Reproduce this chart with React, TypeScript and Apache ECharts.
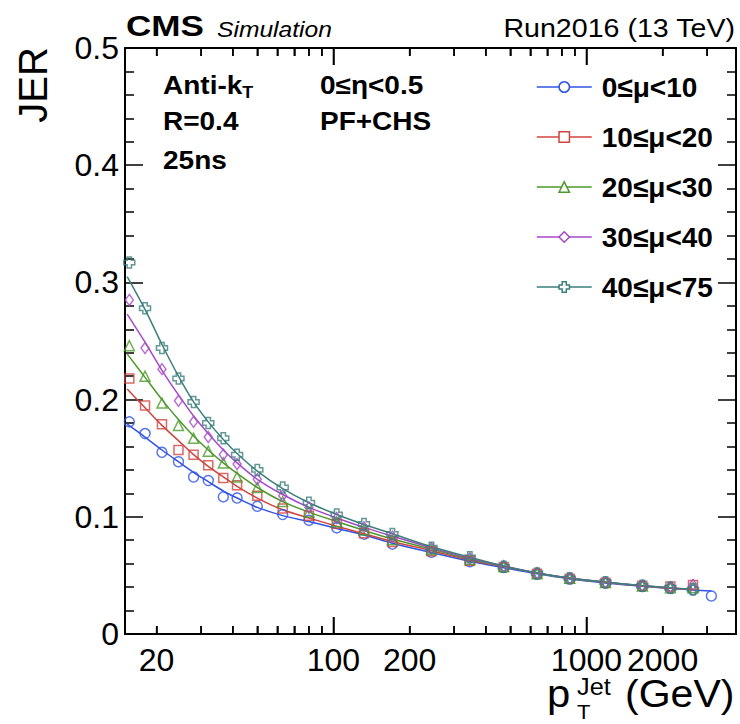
import React, { useEffect, useRef } from 'react';
import * as echarts from 'echarts';

// pT bin centres (GeV)
const ptBins = [15.6, 18, 21, 24.4, 28, 32, 36.7, 41.6, 50, 63, 80, 103, 132, 171, 244, 346, 471, 638, 859, 1189, 1663, 2147, 2637, 3117];
// fit curve sample positions (GeV)
const fitPt = [15.3, 18, 21, 24.4, 28, 32, 36.7, 41.6, 50, 63, 80, 103, 132, 171, 244, 346, 471, 638, 859, 1189, 1663, 2147, 2637, 3117];

const seriesNames = ['0≤μ<10', '10≤μ<20', '20≤μ<30', '30≤μ<40', '40≤μ<75'];

// measured JER points
const jerMu0 = [0.181, 0.171, 0.155, 0.147, 0.134, 0.131, 0.117, 0.116, 0.109, 0.102, 0.097, 0.0906, 0.0852, 0.0767, 0.0697, 0.0616, 0.0567, 0.0512, 0.0469, 0.0435, 0.0405, 0.0388, 0.0375, 0.0324];
const jerMu10 = [0.218, 0.195, 0.179, 0.157, 0.153, 0.144, 0.133, 0.127, 0.118, 0.107, 0.101, 0.094, 0.086, 0.0785, 0.0705, 0.0625, 0.0572, 0.0515, 0.0472, 0.0438, 0.0412, 0.0405, 0.0418];
const jerMu20 = [0.246, 0.220, 0.197, 0.178, 0.167, 0.156, 0.146, 0.134, 0.125, 0.113, 0.104, 0.0957, 0.0887, 0.0805, 0.072, 0.0635, 0.0575, 0.0515, 0.0475, 0.044, 0.041, 0.0395, 0.0395];
const jerMu30 = [0.285, 0.244, 0.226, 0.199, 0.181, 0.168, 0.153, 0.145, 0.132, 0.118, 0.108, 0.099, 0.091, 0.083, 0.073, 0.0645, 0.058, 0.052, 0.0475, 0.044, 0.0412, 0.0398, 0.042];
const jerMu40 = [0.317, 0.278, 0.244, 0.218, 0.198, 0.180, 0.167, 0.153, 0.140, 0.125, 0.112, 0.102, 0.0938, 0.0853, 0.0736, 0.0654, 0.0574, 0.0517, 0.0475, 0.0441, 0.0412, 0.0395, 0.0381];

// fitted curves
const fitMu0 = [0.179, 0.168, 0.157, 0.147, 0.138, 0.130, 0.122, 0.116, 0.108, 0.101, 0.096, 0.090, 0.0845, 0.0775, 0.0695, 0.062, 0.0565, 0.0513, 0.047, 0.0436, 0.0407, 0.039, 0.0376, 0.0366];
const fitMu10 = [0.209, 0.193, 0.178, 0.165, 0.153, 0.143, 0.134, 0.126, 0.116, 0.106, 0.099, 0.092, 0.0855, 0.079, 0.071, 0.063, 0.0575, 0.052, 0.0475, 0.044, 0.041, 0.039, 0.0377];
const fitMu20 = [0.239, 0.219, 0.200, 0.183, 0.169, 0.157, 0.146, 0.137, 0.125, 0.113, 0.104, 0.096, 0.0885, 0.081, 0.0725, 0.0638, 0.0577, 0.0518, 0.0474, 0.0441, 0.0411, 0.0392, 0.0378];
const fitMu30 = [0.273, 0.249, 0.225, 0.204, 0.186, 0.171, 0.157, 0.146, 0.132, 0.119, 0.108, 0.099, 0.091, 0.0835, 0.0735, 0.0645, 0.058, 0.052, 0.0476, 0.0442, 0.0412, 0.0393, 0.0379];
const fitMu40 = [0.305, 0.277, 0.247, 0.220, 0.198, 0.181, 0.166, 0.154, 0.139, 0.124, 0.112, 0.102, 0.0935, 0.0855, 0.0745, 0.0655, 0.058, 0.052, 0.0477, 0.0443, 0.0413, 0.0394, 0.038];

// axis ranges and ticks
const xRange = [15, 3900];
const yRange = [0, 0.5];
const xMinorTicks = [20, 30, 40, 50, 60, 70, 80, 90, 200, 300, 400, 500, 600, 700, 800, 900, 2000, 3000];
const xMajorTicks = [100, 1000];
const xTickLabels = [20, 100, 200, 1000, 2000];

const pointSets = [jerMu0, jerMu10, jerMu20, jerMu30, jerMu40];
const fitSets = [fitMu0, fitMu10, fitMu20, fitMu30, fitMu40];
const colors = ['#2f54e6', '#d0453f', '#4c9a2a', '#a548c9', '#3b7f7b'];
const crossPath = 'path://M3,0 L7,0 L7,3 L10,3 L10,7 L7,7 L7,10 L3,10 L3,7 L0,7 L0,3 L3,3 Z';
const symbols = ['circle', 'rect', 'triangle', 'diamond', crossPath];
const symbolSizes: any[] = [10, 9, 10, [8, 11], 11];

const FONT = '"Liberation Sans", Arial, Helvetica, sans-serif';
const PLOT_H = 724 - 48 - 90;

export default function App() {
  const ref = useRef<HTMLDivElement>(null);
  useEffect(() => {
    if (!ref.current) return;
    const chart = echarts.init(ref.current, null, { renderer: 'svg' });

    const tickStyle = { color: '#000', width: 1.5 };
    const frameLine = { show: true, onZero: false, lineStyle: { color: '#000', width: 2 } };

    const logAxis = (position: string, labels: boolean) => ({
      type: 'log',
      logBase: 10,
      min: xRange[0],
      max: xRange[1],
      position,
      splitLine: { show: false },
      axisLine: frameLine,
      axisTick: { show: false },
      axisLabel: labels
        ? {
            show: true,
            customValues: xTickLabels,
            formatter: (v: number) => String(Math.round(v)),
            fontSize: 32,
            color: '#000',
            margin: 10,
            fontFamily: FONT,
          }
        : { show: false },
    });

    const xAxis: any[] = [logAxis('bottom', true), logAxis('top', false)];

    const yBase = {
      type: 'value',
      min: yRange[0],
      max: yRange[1],
      interval: 0.1,
      splitLine: { show: false },
      axisLine: frameLine,
      axisTick: { show: true, inside: true, length: 18, lineStyle: tickStyle },
      minorTick: { show: true, splitNumber: 5, length: 9, lineStyle: tickStyle },
    };
    const yAxis: any[] = [
      {
        ...yBase,
        position: 'left',
        axisLabel: {
          show: true,
          formatter: (v: number) => (v === 0 ? '0' : v.toFixed(1)),
          fontSize: 32,
          color: '#000',
          margin: 6,
          fontFamily: FONT,
        },
      },
      { ...yBase, position: 'right', axisLabel: { show: false } },
    ];

    // x tick segments in data coordinates (bottom and top edges of the frame)
    const span = yRange[1] - yRange[0];
    const tickSegments: any[] = [];
    [...xMinorTicks, ...xMajorTicks].forEach((v) => {
      const len = ((xMajorTicks.includes(v) ? 17 : 8) / PLOT_H) * span;
      tickSegments.push([{ coord: [v, yRange[0]] }, { coord: [v, yRange[0] + len] }]);
      tickSegments.push([{ coord: [v, yRange[1]] }, { coord: [v, yRange[1] - len] }]);
    });

    const series: any[] = [];
    seriesNames.forEach((name, i) => {
      const fitData = fitSets[i].map((v, k) => [fitPt[k], v]);
      const s: any = {
        type: 'line',
        name,
        data: fitData,
        xAxisIndex: 0,
        yAxisIndex: 0,
        smooth: 0.3,
        showSymbol: false,
        symbol: symbols[i],
        symbolSize: symbolSizes[i],
        lineStyle: { color: colors[i], width: 1.5 },
        itemStyle: { color: colors[i] },
        emphasis: { disabled: true },
        z: 2,
      };
      if (i === 0) {
        s.markLine = {
          silent: true,
          symbol: ['none', 'none'],
          animation: false,
          label: { show: false },
          lineStyle: { color: '#000', width: 1.5, type: 'solid' },
          emphasis: { disabled: true },
          data: tickSegments,
        };
      }
      series.push(s);
    });
    seriesNames.forEach((name, i) => {
      const pts = pointSets[i].map((v, k) => [ptBins[k], v]);
      series.push({
        type: 'scatter',
        name,
        data: pts,
        xAxisIndex: 0,
        yAxisIndex: 0,
        symbol: symbols[i],
        symbolSize: symbolSizes[i],
        itemStyle: { color: 'rgba(255,255,255,0)', borderColor: colors[i], borderWidth: 1.5 },
        emphasis: { disabled: true },
        z: 3,
      });
    });

    const txt = (text: string, x: number, y: number, font: string, opts: any = {}) => ({
      type: 'text',
      x,
      y,
      scaleX: opts.scaleX ?? 1.12,
      rotation: opts.rotation ?? 0,
      style: {
        text,
        font,
        fill: '#000',
        align: opts.align ?? 'left',
        verticalAlign: opts.verticalAlign ?? 'middle',
      },
      z: 10,
    });

    const texts: any[] = [
      txt('CMS', 126, 25.5, `bold 30px ${FONT}`, { scaleX: 1.17 }),
      txt('Simulation', 217, 29, `italic 22px ${FONT}`, { scaleX: 1.12 }),
      txt('Run2016 (13 TeV)', 735, 27.5, `26px ${FONT}`, { align: 'right', scaleX: 1.1 }),
      {
        type: 'text',
        x: 163,
        y: 86,
        scaleX: 1.12,
        style: {
          text: '{a|Anti-k}{s|T}',
          fill: '#000',
          verticalAlign: 'middle',
          rich: {
            a: { font: `bold 25px ${FONT}`, fill: '#000' },
            s: { font: `bold 16px ${FONT}`, fill: '#000', padding: [14, 0, 0, 0] },
          },
        },
        z: 10,
      },
      txt('R=0.4', 163, 122, `bold 25px ${FONT}`),
      txt('25ns', 163, 161, `bold 25px ${FONT}`),
      txt('0≤η<0.5', 320, 86, `bold 25px ${FONT}`),
      txt('PF+CHS', 320, 122, `bold 25px ${FONT}`),
      txt('JER', 33, 85, `40px ${FONT}`, { rotation: Math.PI / 2, align: 'center', scaleX: 1 }),
      txt('p', 547, 694, `38px ${FONT}`, { scaleX: 1.1 }),
      txt('Jet', 577, 687, `23px ${FONT}`, { scaleX: 1.1 }),
      txt('T', 577, 712, `20px ${FONT}`, { scaleX: 1.1 }),
      txt('(GeV)', 625, 694, `38px ${FONT}`, { scaleX: 1.08 }),
    ];

    const option: any = {
      animation: false,
      backgroundColor: '#fff',
      grid: { left: 125, right: 4, top: 48, bottom: 90, containLabel: false },
      xAxis,
      yAxis,
      legend: {
        orient: 'vertical',
        left: 531,
        top: 68,
        itemWidth: 55,
        itemHeight: 13,
        itemGap: 22,
        selectedMode: false,
        textStyle: { fontSize: 28, fontWeight: 'bold', color: '#000', fontFamily: FONT, lineHeight: 27, padding: [0, 0, 0, 5] },
        data: seriesNames.map((n, i) => ({
          name: n,
          itemStyle: { color: '#fff', borderColor: colors[i], borderWidth: 1.5 },
          lineStyle: { color: colors[i], width: 1.5 },
        })),
      },
      graphic: { elements: texts },
      series,
    };

    chart.setOption(option);

    // same tick marks as thin rects, positioned by the log axis scale
    const bottomY = Number(chart.convertToPixel({ yAxisIndex: 0 }, yRange[0]));
    const topY = Number(chart.convertToPixel({ yAxisIndex: 0 }, yRange[1]));
    const tickEls: any[] = [];
    [...xMinorTicks, ...xMajorTicks].forEach((v) => {
      const px = Number(chart.convertToPixel({ xAxisIndex: 0 }, v));
      if (!isFinite(px) || !isFinite(bottomY) || !isFinite(topY)) return;
      const len = xMajorTicks.includes(v) ? 17 : 8;
      tickEls.push({ type: 'rect', shape: { x: px - 0.75, y: bottomY - len, width: 1.5, height: len }, style: { fill: '#000' }, z: 20 });
      tickEls.push({ type: 'rect', shape: { x: px - 0.75, y: topY, width: 1.5, height: len }, style: { fill: '#000' }, z: 20 });
    });
    if (tickEls.length) chart.setOption({ graphic: { elements: [...texts, ...tickEls] } });

    return () => chart.dispose();
  }, []);

  return (
    <div
      ref={ref}
      style={{ position: 'fixed', left: 0, top: 0, width: 740, height: 724, background: '#fff' }}
    />
  );
}
